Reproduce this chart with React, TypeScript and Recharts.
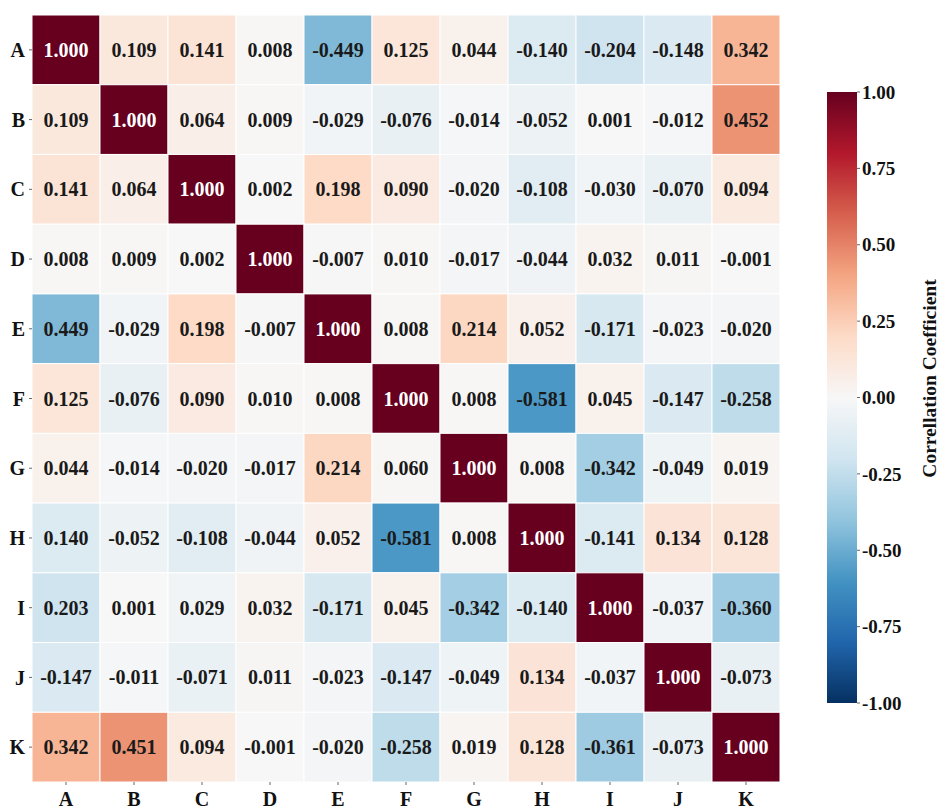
import { ReferenceArea, Scatter, ScatterChart, XAxis, YAxis } from 'recharts';

const variables = ['A', 'B', 'C', 'D', 'E', 'F', 'G', 'H', 'I', 'J', 'K'];

// values as printed in each row of the heatmap
const rowA = [1.0, 0.109, 0.141, 0.008, -0.449, 0.125, 0.044, -0.14, -0.204, -0.148, 0.342];
const rowB = [0.109, 1.0, 0.064, 0.009, -0.029, -0.076, -0.014, -0.052, 0.001, -0.012, 0.452];
const rowC = [0.141, 0.064, 1.0, 0.002, 0.198, 0.09, -0.02, -0.108, -0.03, -0.07, 0.094];
const rowD = [0.008, 0.009, 0.002, 1.0, -0.007, 0.01, -0.017, -0.044, 0.032, 0.011, -0.001];
const rowE = [0.449, -0.029, 0.198, -0.007, 1.0, 0.008, 0.214, 0.052, -0.171, -0.023, -0.02];
const rowF = [0.125, -0.076, 0.09, 0.01, 0.008, 1.0, 0.008, -0.581, 0.045, -0.147, -0.258];
const rowG = [0.044, -0.014, -0.02, -0.017, 0.214, 0.06, 1.0, 0.008, -0.342, -0.049, 0.019];
const rowH = [0.14, -0.052, -0.108, -0.044, 0.052, -0.581, 0.008, 1.0, -0.141, 0.134, 0.128];
const rowI = [0.203, 0.001, 0.029, 0.032, -0.171, 0.045, -0.342, -0.14, 1.0, -0.037, -0.36];
const rowJ = [-0.147, -0.011, -0.071, 0.011, -0.023, -0.147, -0.049, 0.134, -0.037, 1.0, -0.073];
const rowK = [0.342, 0.451, 0.094, -0.001, -0.02, -0.258, 0.019, 0.128, -0.361, -0.073, 1.0];

const matrix = [rowA, rowB, rowC, rowD, rowE, rowF, rowG, rowH, rowI, rowJ, rowK];

const colorbarTicks = [-1, -0.75, -0.5, -0.25, 0, 0.25, 0.5, 0.75, 1];
const colorbarRange = [
  { x: 0, y: -1 },
  { x: 1, y: 1 },
];

// RdBu_r, from -1 to 1
const palette = [
  '#053061', '#2166ac', '#4393c3', '#92c5de', '#d1e5f0', '#f7f7f7',
  '#fddbc7', '#f4a582', '#d6604d', '#b2182b', '#67001f',
];

const FONT = '"Liberation Serif", "Times New Roman", serif';

function hexToRgb(hex: string) {
  const n = parseInt(hex.slice(1), 16);
  return [(n >> 16) & 255, (n >> 8) & 255, n & 255];
}

function colorFor(v: number) {
  const t = ((Math.max(-1, Math.min(1, v)) + 1) / 2) * (palette.length - 1);
  const i = Math.min(Math.floor(t), palette.length - 2);
  const f = t - i;
  const a = hexToRgb(palette[i]);
  const b = hexToRgb(palette[i + 1]);
  const c = a.map((x, k) => Math.round(x + (b[k] - x) * f));
  return { css: `rgb(${c[0]},${c[1]},${c[2]})`, lum: (0.299 * c[0] + 0.587 * c[1] + 0.114 * c[2]) / 255 };
}

// cell colours follow the upper triangle of the matrix
const cells = matrix.flatMap((row, r) =>
  row.map((value, c) => {
    const colorValue = matrix[Math.min(r, c)][Math.max(r, c)];
    const col = colorFor(colorValue);
    return {
      x: c + 0.5,
      y: r + 0.5,
      row: r,
      col: c,
      value,
      fill: col.css,
      textColor: col.lum < 0.4 ? '#ffffff' : '#1a1a1a',
    };
  })
);

const centers = variables.map((_, i) => i + 0.5);

function CellText(props: any) {
  const { cx, cy, payload } = props;
  return (
    <text
      x={cx}
      y={cy}
      textAnchor="middle"
      dominantBaseline="central"
      fill={payload.textColor}
      fontSize={20}
      fontWeight={700}
      fontFamily={FONT}
    >
      {payload.value.toFixed(3)}
    </text>
  );
}

const tickStyle = { fill: '#111', fontSize: 20, fontWeight: 700, fontFamily: FONT };

function ColorbarTitle(p: any) {
  const vb = p.viewBox;
  const cx = 129;
  const cy = vb.y + vb.height / 2 - 19;
  return (
    <text
      x={cx}
      y={cy}
      transform={`rotate(-90 ${cx} ${cy})`}
      textAnchor="middle"
      dominantBaseline="central"
      fill="#111"
      fontSize={19.5}
      fontWeight={700}
      fontFamily={FONT}
    >
      Correllation Coefficient
    </text>
  );
}

export default function App() {
  return (
    <div style={{ position: 'absolute', left: 0, top: 0, width: 939, height: 811, background: '#fff' }}>
      <div style={{ position: 'absolute', left: 0, top: 0 }}>
        <ScatterChart width={800} height={811} margin={{ top: 15, right: 20, bottom: 0, left: 0 }}>
          <XAxis
            type="number"
            dataKey="x"
            domain={[0, 11]}
            ticks={centers}
            tickFormatter={(v: number) => variables[Math.floor(v)]}
            axisLine={false}
            tickLine={{ stroke: '#666' }}
            tickSize={3}
            tickMargin={7}
            height={29}
            tick={tickStyle}
            interval={0}
          />
          <YAxis
            type="number"
            dataKey="y"
            domain={[0, 11]}
            reversed
            ticks={centers}
            tickFormatter={(v: number) => variables[Math.floor(v)]}
            axisLine={false}
            tickLine={{ stroke: '#666' }}
            tickSize={3}
            tickMargin={4}
            width={32}
            tick={tickStyle}
            interval={0}
          />
          {cells.map((cell) => (
            <ReferenceArea
              key={`${cell.row}-${cell.col}`}
              x1={cell.col}
              x2={cell.col + 1}
              y1={cell.row}
              y2={cell.row + 1}
              fill={cell.fill}
              fillOpacity={1}
              stroke="#ffffff"
              strokeWidth={1}
            />
          ))}
          <Scatter data={cells} shape={<CellText />} isAnimationActive={false} />
        </ScatterChart>
      </div>
      <div style={{ position: 'absolute', left: 800, top: 0 }}>
        <ScatterChart width={139} height={811} margin={{ top: 92, right: 0, bottom: 108, left: 27 }}>
          <defs>
            <linearGradient id="cbar" x1="0" y1="0" x2="0" y2="1">
              {palette
                .slice()
                .reverse()
                .map((c, i) => (
                  <stop key={c} offset={`${(i / (palette.length - 1)) * 100}%`} stopColor={c} />
                ))}
            </linearGradient>
          </defs>
          <XAxis type="number" dataKey="x" domain={[0, 1]} hide />
          <YAxis
            type="number"
            dataKey="y"
            orientation="right"
            domain={[-1, 1]}
            ticks={colorbarTicks}
            tickFormatter={(v: number) => v.toFixed(2)}
            axisLine={false}
            tickLine={{ stroke: '#666' }}
            tickSize={3}
            tickMargin={2}
            width={82}
            interval={0}
            tick={{ fill: '#111', fontSize: 19, fontWeight: 700, fontFamily: FONT }}
            label={{ content: ColorbarTitle }}
          />
          <ReferenceArea x1={0} x2={1} y1={-1} y2={1} fill="url(#cbar)" fillOpacity={1} stroke="none" />
          <Scatter data={colorbarRange} shape={() => <g />} isAnimationActive={false} />
        </ScatterChart>
      </div>
    </div>
  );
}
